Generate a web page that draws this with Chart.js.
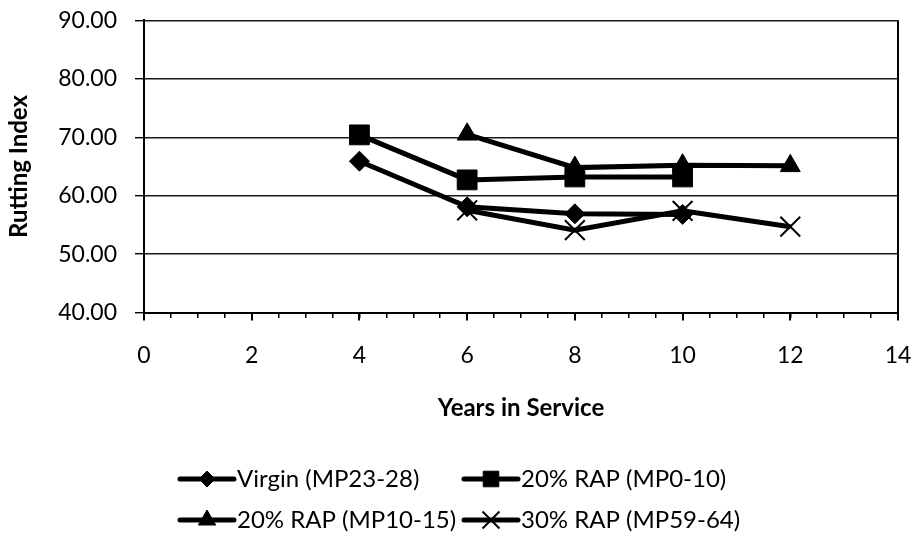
<!DOCTYPE html>
<html>
<head>
<meta charset="utf-8">
<script src="https://cdn.jsdelivr.net/npm/chart.js@4.4.0/dist/chart.umd.min.js"></script>
<style>
  html, body { margin: 0; padding: 0; background: #fff; }
</style>
</head>
<body>
<canvas id="graficoRutting" width="914" height="544"></canvas>
<script>
// series
var nomes = ["Virgin (MP23-28)", "20% RAP (MP0-10)", "20% RAP (MP10-15)", "30% RAP (MP59-64)"];
var anosVirgin = [4, 6, 8, 10];
var virgin = [65.9, 58.1, 56.9, 56.8];
var anosRap0 = [4, 6, 8, 10];
var rap0 = [70.4, 62.7, 63.2, 63.2];
var anosRap10 = [6, 8, 10, 12];
var rap10 = [70.5, 64.8, 65.2, 65.1];
var anosRap59 = [6, 8, 10, 12];
var rap59 = [57.5, 54.1, 57.4, 54.7];

var FONTE = "Lato";

function pares(anos, valores) {
	var out = [];
	for (var i = 0; i < anos.length; i++) {
		out.push({x: anos[i], y: valores[i]});
	}
	return out;
}

function serie(nome, dados, estilo, raio, borda) {
	return {
		label: nome,
		data: dados,
		borderColor: "#000",
		backgroundColor: "#000",
		borderWidth: 5,
		pointStyle: estilo,
		pointRadius: raio,
		pointHoverRadius: raio,
		pointBorderWidth: borda,
		pointBackgroundColor: "#000",
		pointBorderColor: "#000",
		tension: 0
	};
}

// marker sizes used in the legend
var raioLegenda = [8, 11, 10, 12];

var legendaGrade = {
	id: "legendaGrade",
	afterDraw: function(chart) {
		var ctx = chart.ctx;
		var colunas = [177, 461];
		var linhas = [479, 520];
		chart.data.datasets.forEach(function(ds, i) {
			var x = colunas[i % 2];
			var y = linhas[Math.floor(i / 2)];
			ctx.save();
			ctx.strokeStyle = "#000";
			ctx.fillStyle = "#000";
			ctx.lineWidth = 5;
			ctx.lineCap = "round";
			ctx.beginPath();
			ctx.moveTo(x + 3, y);
			ctx.lineTo(x + 57, y);
			ctx.stroke();
			ctx.lineCap = "butt";
			ctx.lineWidth = ds.pointBorderWidth;
			Chart.helpers.drawPoint(ctx, {
				pointStyle: ds.pointStyle,
				radius: raioLegenda[i],
				borderWidth: ds.pointBorderWidth,
				rotation: 0
			}, x + 30, y);
			ctx.font = "24px " + FONTE;
			ctx.textAlign = "left";
			ctx.textBaseline = "middle";
			ctx.fillText(ds.label, x + 60, y);
			ctx.restore();
		});
	}
};

var contexto = document.getElementById("graficoRutting");
var grafico = new Chart(contexto, {
	type: "line",
	data: {
		datasets: [
			serie(nomes[0], pares(anosVirgin, virgin), "rectRot", 10, 1),
			serie(nomes[1], pares(anosRap0, rap0), "rect", 14, 1),
			serie(nomes[2], pares(anosRap10, rap10), "triangle", 11.5, 1),
			serie(nomes[3], pares(anosRap59, rap59), "crossRot", 14, 2)
		]
	},
	options: {
		responsive: false,
		animation: false,
		layout: {
			padding: {left: 0, right: 16, top: 20, bottom: 121.6}
		},
		plugins: {
			legend: {display: false},
			tooltip: {enabled: false}
		},
		scales: {
			x: {
				type: "linear",
				min: 0,
				max: 14,
				ticks: {
					stepSize: 2,
					color: "#000",
					padding: 0,
					maxRotation: 0,
					// tall line box pushes the labels down without extra side padding
					font: {family: FONTE, size: 23, lineHeight: 3}
				},
				grid: {
					drawOnChartArea: true,
					color: function(c) {
						return c.tick && c.tick.value === 14 ? "#000" : "rgba(0,0,0,0)";
					},
					lineWidth: 2,
					tickColor: "#000",
					tickLength: 8
				},
				border: {display: true, color: "#000", width: 2},
				title: {
					display: true,
					text: "Years in Service",
					color: "#000",
					font: {family: FONTE, size: 24, weight: "bold"},
					padding: {top: 4, bottom: 0}
				}
			},
			xMenor: {
				type: "linear",
				position: {y: 40},
				min: 0,
				max: 14,
				ticks: {stepSize: 0.5, display: false},
				grid: {
					drawOnChartArea: false,
					tickColor: "#000",
					tickLength: 5,
					lineWidth: 1.5
				},
				border: {display: false}
			},
			y: {
				min: 40,
				max: 90,
				afterFit: function(escala) {
					escala.width = 144;
				},
				ticks: {
					stepSize: 10,
					color: "#000",
					padding: 18,
					font: {family: FONTE, size: 23, lineHeight: 0.2},
					callback: function(v) {
						return v.toFixed(2);
					}
				},
				grid: {
					color: "#1a1a1a",
					lineWidth: 1.4,
					tickColor: "#000",
					tickLength: 9
				},
				border: {display: true, color: "#000", width: 2},
				title: {
					display: true,
					text: "Rutting Index",
					color: "#000",
					font: {family: FONTE, size: 24, weight: "bold"},
					padding: {top: 5, bottom: 0}
				}
			}
		}
	},
	plugins: [legendaGrade]
});
</script>
</body>
</html>
